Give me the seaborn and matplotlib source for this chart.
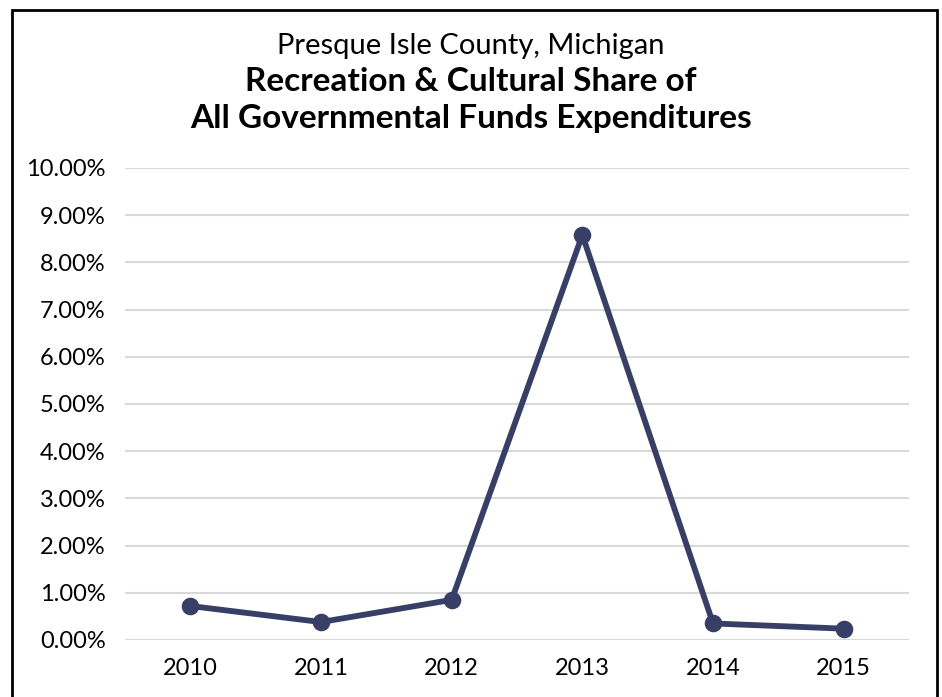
import numpy as np
import pandas as pd
import matplotlib
matplotlib.use("Agg")
import matplotlib.pyplot as plt
import matplotlib.patches as mpatches
from matplotlib.ticker import PercentFormatter, MultipleLocator
import seaborn as sns

# ------------------------------------------------------------------ #
# Data
# ------------------------------------------------------------------ #
years = ["2010", "2011", "2012", "2013", "2014", "2015"]
share_pct = [0.72, 0.38, 0.85, 8.58, 0.35, 0.24]   # % of all expenditures

title_top = "Presque Isle County, Michigan"
title_main = "Recreation & Cultural Share of\nAll Governmental Funds Expenditures"

line_color = "#373f66"

sns.set_theme(style="white")
plt.rcParams["font.family"] = ["Lato", "DejaVu Sans"]
plt.rcParams["text.color"] = "black"

df = pd.DataFrame({"year": years, "share": share_pct})

fig = plt.figure(figsize=(9.42, 6.97), dpi=100)
ax = fig.add_axes([0.1327, 0.0818, 0.8323, 0.6772])

sns.pointplot(
    data=df, x="year", y="share",
    color=line_color,
    linewidth=4.2,
    markersize=9.5,
    ax=ax,
)

ax.set_xlim(-0.5, len(years) - 0.5)
ax.set_ylim(0, 10)
ax.yaxis.set_major_locator(MultipleLocator(1))
ax.yaxis.set_major_formatter(PercentFormatter(xmax=100, decimals=2))
ax.grid(axis="y", color="#d9d9d9", lw=1.5)
ax.set_axisbelow(True)
sns.despine(ax=ax, left=True, bottom=True)
ax.tick_params(axis="both", length=0, labelsize=17, colors="black")
ax.tick_params(axis="y", pad=14)
ax.tick_params(axis="x", pad=13)
ax.set_xlabel("")
ax.set_ylabel("")

# Titles
fig.text(0.5, 0.934, title_top, ha="center", va="center", fontsize=21)
fig.text(0.5, 0.857, title_main, ha="center", va="center", fontsize=24,
         fontweight="bold", linespacing=1.32)

# Outer frame (open at the bottom)
frame = mpatches.Rectangle((12 / 942, -0.05), 925 / 942, 1.05 - 10 / 697,
                           transform=fig.transFigure, fill=False,
                           edgecolor="black", lw=2)
fig.patches.append(frame)

fig.savefig("out.png", dpi=100)
plt.close(fig)
